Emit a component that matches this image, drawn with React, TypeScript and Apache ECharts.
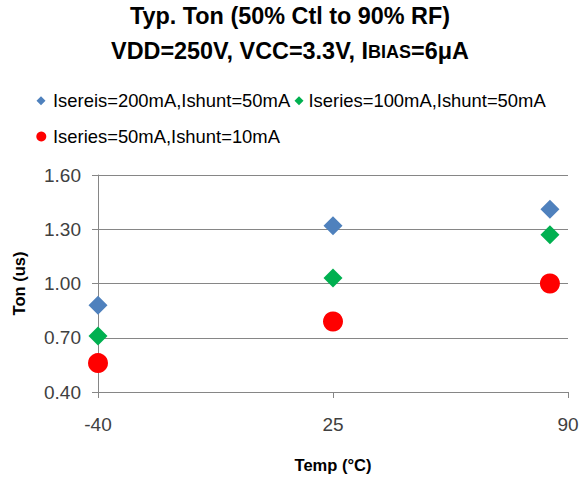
import React, { useEffect, useRef } from "react";
import * as echarts from "echarts";

const temps = [-40, 25, 85];
const seriesNames = [
  "Isereis=200mA,Ishunt=50mA",
  "Iseries=100mA,Ishunt=50mA",
  "Iseries=50mA,Ishunt=10mA",
];
const s1 = [0.88, 1.32, 1.41];
const s2 = [0.71, 1.03, 1.27];
const s3 = [0.56, 0.79, 1.0];
const xTicks = { min: -40, max: 90, interval: 65 };
const yTicks = { min: 0.4, max: 1.6, interval: 0.3 };

const FONT = "Liberation Sans";

export default function App() {
  const ref = useRef<HTMLDivElement>(null);
  useEffect(() => {
    if (!ref.current) return;
    const chart = echarts.init(ref.current, null, { renderer: "svg" });
    const toData = (vals: number[]) => temps.map((t, i) => [t, vals[i]]);
    const legendText = (padLeft: number) => ({
      fontFamily: FONT,
      fontSize: 18.4,
      color: "#000",
      padding: [0, 0, 0, padLeft],
    });
    chart.setOption({
      animation: false,
      backgroundColor: "#fff",
      title: {
        left: "center",
        top: -2,
        padding: 0,
        text:
          "{a|Typ. Ton (50% Ctl to 90% RF)}\n{a|VDD=250V, VCC=3.3V, I}{b|BIAS}{a|=6μA}",
        textStyle: {
          rich: {
            a: { fontFamily: FONT, fontSize: 23.4, fontWeight: "bold", color: "#000", lineHeight: 35, verticalAlign: "middle" },
            b: { fontFamily: FONT, fontSize: 18, fontWeight: "bold", color: "#000", lineHeight: 35, verticalAlign: "middle", padding: [3.8, 0, 0, 0] },
          },
        },
      },
      legend: [
        { data: [seriesNames[0]], left: 36.5, top: 91.8, padding: 0, itemWidth: 9, itemHeight: 9, textStyle: legendText(2.5) },
        { data: [seriesNames[1]], left: 294.5, top: 91.8, padding: 0, itemWidth: 9, itemHeight: 9, textStyle: legendText(0) },
        { data: [seriesNames[2]], left: 36.3, top: 127.5, padding: 0, itemWidth: 10, itemHeight: 10, textStyle: legendText(1.7) },
      ],
      grid: { left: 98, right: 12, top: 175, bottom: 87, containLabel: false, outerBoundsMode: "none" },
      xAxis: {
        type: "value",
        min: xTicks.min,
        max: xTicks.max,
        interval: xTicks.interval,
        name: "Temp (°C)",
        nameLocation: "middle",
        nameGap: 64,
        nameTextStyle: { fontFamily: FONT, fontSize: 16.5, fontWeight: "bold", color: "#000" },
        axisLine: { show: true, onZero: false, lineStyle: { color: "#868686", width: 1 } },
        axisTick: { show: true, length: 6, lineStyle: { color: "#868686" } },
        axisLabel: { fontFamily: FONT, fontSize: 19, color: "#404040", margin: 23 },
        splitLine: { show: false },
      },
      yAxis: {
        type: "value",
        min: yTicks.min,
        max: yTicks.max,
        interval: yTicks.interval,
        name: "Ton (us)",
        nameLocation: "middle",
        nameGap: 71,
        nameTextStyle: { fontFamily: FONT, fontSize: 16.5, fontWeight: "bold", color: "#000" },
        axisLine: { show: true, onZero: false, lineStyle: { color: "#868686", width: 1 } },
        axisTick: { show: true, length: 6, lineStyle: { color: "#868686" } },
        axisLabel: {
          fontFamily: FONT,
          fontSize: 19,
          color: "#404040",
          margin: 17,
          formatter: (v: number) => v.toFixed(2),
        },
        splitLine: { show: true, lineStyle: { color: "#868686", width: 1 } },
      },
      series: [
        { name: seriesNames[0], type: "scatter", symbol: "diamond", symbolSize: 19, itemStyle: { color: "#4F81BD", opacity: 1 }, data: toData(s1) },
        { name: seriesNames[1], type: "scatter", symbol: "diamond", symbolSize: 19, itemStyle: { color: "#00B050", opacity: 1 }, data: toData(s2) },
        { name: seriesNames[2], type: "scatter", symbol: "circle", symbolSize: 20, itemStyle: { color: "#FF0000", opacity: 1 }, data: toData(s3) },
      ],
    });
    return () => chart.dispose();
  }, []);
  return (
    <div
      ref={ref}
      style={{ position: "absolute", left: 0, top: 0, width: 580, height: 479 }}
    />
  );
}
